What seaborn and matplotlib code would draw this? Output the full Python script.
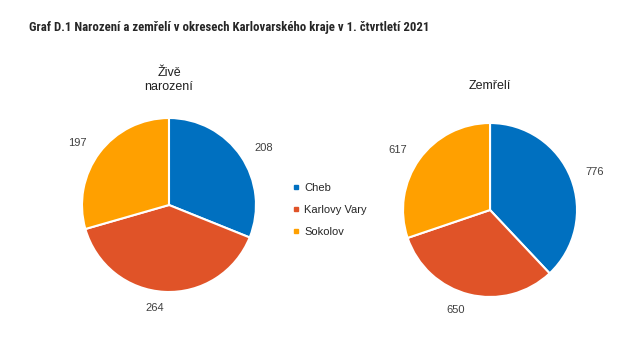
import matplotlib
matplotlib.use("Agg")
import matplotlib.pyplot as plt
from matplotlib.lines import Line2D
import seaborn as sns

sns.set_style("white")
plt.rcParams['font.family'] = ['Liberation Sans', 'DejaVu Sans']

# data
okresy = ["Cheb", "Karlovy Vary", "Sokolov"]
narozeni = [208, 264, 197]
zemreli = [776, 650, 617]
colors = ["#0070C0", "#E05328", "#FFA000"]
title = "Graf D.1 Narozen\u00ed a zem\u0159el\u00ed v okresech Karlovarsk\u00e9ho kraje v 1. \u010dtvrtlet\u00ed 2021"

fig = plt.figure(figsize=(6.39, 3.6), dpi=100)
fig.patch.set_facecolor("white")

def draw_pie(rect, values):
    ax = fig.add_axes(rect)
    ax.pie(values, colors=colors, startangle=90, counterclock=False,
           labels=[str(v) for v in values], labeldistance=1.18,
           wedgeprops={"edgecolor": "white", "linewidth": 1.5},
           textprops={"color": "#404040", "fontsize": 8})
    ax.set_xlim(-1, 1)
    ax.set_ylim(-1, 1)
    ax.set_aspect("equal")
    ax.axis("off")
    return ax

ax1 = draw_pie([0.1283, 0.1889, 0.2723, 0.4833], narozeni)
ax2 = draw_pie([0.6307, 0.175, 0.2723, 0.4833], zemreli)

fig.text(169 / 639, 1 - 80 / 360, "Živě\nnarození", ha="center", va="center",
         fontsize=9, color="#202020", linespacing=1.2)
fig.text(490 / 639, 1 - 86 / 360, "Zemřelí", ha="center", va="center",
         fontsize=9, color="#202020")

fig.text(29 / 639, 1 - 27 / 360, title, ha="left", va="center",
         fontsize=9.2, fontweight="bold", family=["Roboto Condensed", "Liberation Sans"])

handles = [Line2D([0], [0], marker="s", color="w", markerfacecolor=c,
                  markeredgecolor=c, markersize=3.5) for c in colors]
fig.legend(handles, okresy, loc="center left", bbox_to_anchor=(283 / 639, 1 - 210 / 360),
           frameon=False, fontsize=8, handlelength=0.6, handletextpad=0.4,
           labelspacing=1.1)

fig.savefig("out.png", dpi=100)
